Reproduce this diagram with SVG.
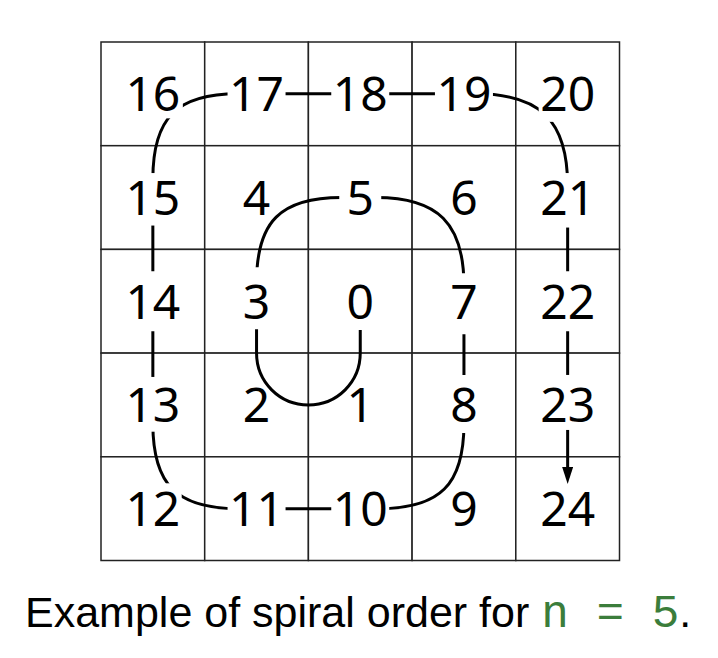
<svg xmlns="http://www.w3.org/2000/svg" width="718" height="658" viewBox="0 0 718 658">
<style>
.cell{fill:#fff;stroke:#222;stroke-width:1.5}
.lbl{font-family:"Noto Sans","DejaVu Sans",sans-serif;font-size:48px;fill:#000;text-anchor:middle}
.conn{fill:none;stroke:#000;stroke-width:3}
.cap{font-family:"Liberation Sans",Arial,sans-serif;font-size:43px;fill:#000}
.n{font-family:"Liberation Mono","Courier New",monospace;font-size:46px;fill:#3b7d3b}
</style>
<defs>
<marker id="arrow" markerUnits="userSpaceOnUse" viewBox="0 0 17 11" refX="11" refY="5.5" markerWidth="17" markerHeight="11" orient="auto">
<path d="M0,0 L17,5.5 L0,11 Z" fill="#000"/>
</marker>
<mask id="gaps" maskUnits="userSpaceOnUse" x="0" y="0" width="718" height="658">
<rect x="0" y="0" width="718" height="658" fill="#fff"/>
<g fill="#000">
<rect x="339.25" y="272" width="42" height="58"/>
<rect x="235.55" y="267.25" width="42" height="62"/>
<rect x="339.25" y="167.55" width="42" height="60"/>
<rect x="442.95" y="273.25" width="42" height="61"/>
<rect x="442.95" y="375" width="42" height="58"/>
<rect x="331.25" y="478.65" width="58" height="60"/>
<rect x="227.55" y="478.65" width="58" height="60"/>
<rect x="123.85" y="483.3" width="57.85" height="55"/>
<rect x="123.85" y="376.95" width="58" height="54.75"/>
<rect x="123.85" y="271.25" width="58" height="60"/>
<rect x="123.85" y="173.05" width="58" height="52.5"/>
<rect x="122.85" y="63.85" width="60" height="54.5"/>
<rect x="227.55" y="63.85" width="58" height="60"/>
<rect x="331.25" y="63.85" width="58" height="60"/>
<rect x="434.95" y="63.85" width="58" height="60"/>
<rect x="538.65" y="63.85" width="58" height="58"/>
<rect x="538.65" y="173.05" width="58" height="54.5"/>
<rect x="538.65" y="271.25" width="58" height="60"/>
<rect x="538.65" y="374.95" width="58" height="55"/>
</g>
</mask>
</defs>
<g id="grid">
<g id="n16"><rect class="cell" x="101" y="42" width="103.7" height="103.7"/><text class="lbl" x="152.85" y="111.35">16</text></g>
<g id="n17"><rect class="cell" x="204.7" y="42" width="103.7" height="103.7"/><text class="lbl" x="256.55" y="111.35">17</text></g>
<g id="n18"><rect class="cell" x="308.4" y="42" width="103.7" height="103.7"/><text class="lbl" x="360.25" y="111.35">18</text></g>
<g id="n19"><rect class="cell" x="412.1" y="42" width="103.7" height="103.7"/><text class="lbl" x="463.95" y="111.35">19</text></g>
<g id="n20"><rect class="cell" x="515.8" y="42" width="103.7" height="103.7"/><text class="lbl" x="567.65" y="111.35">20</text></g>
<g id="n15"><rect class="cell" x="101" y="145.7" width="103.7" height="103.7"/><text class="lbl" x="152.85" y="215.05">15</text></g>
<g id="n4"><rect class="cell" x="204.7" y="145.7" width="103.7" height="103.7"/><text class="lbl" x="256.55" y="215.05">4</text></g>
<g id="n5"><rect class="cell" x="308.4" y="145.7" width="103.7" height="103.7"/><text class="lbl" x="360.25" y="215.05">5</text></g>
<g id="n6"><rect class="cell" x="412.1" y="145.7" width="103.7" height="103.7"/><text class="lbl" x="463.95" y="215.05">6</text></g>
<g id="n21"><rect class="cell" x="515.8" y="145.7" width="103.7" height="103.7"/><text class="lbl" x="567.65" y="215.05">21</text></g>
<g id="n14"><rect class="cell" x="101" y="249.4" width="103.7" height="103.7"/><text class="lbl" x="152.85" y="318.75">14</text></g>
<g id="n3"><rect class="cell" x="204.7" y="249.4" width="103.7" height="103.7"/><text class="lbl" x="256.55" y="318.75">3</text></g>
<g id="n0"><rect class="cell" x="308.4" y="249.4" width="103.7" height="103.7"/><text class="lbl" x="360.25" y="318.75">0</text></g>
<g id="n7"><rect class="cell" x="412.1" y="249.4" width="103.7" height="103.7"/><text class="lbl" x="463.95" y="318.75">7</text></g>
<g id="n22"><rect class="cell" x="515.8" y="249.4" width="103.7" height="103.7"/><text class="lbl" x="567.65" y="318.75">22</text></g>
<g id="n13"><rect class="cell" x="101" y="353.1" width="103.7" height="103.7"/><text class="lbl" x="152.85" y="422.45">13</text></g>
<g id="n2"><rect class="cell" x="204.7" y="353.1" width="103.7" height="103.7"/><text class="lbl" x="256.55" y="422.45">2</text></g>
<g id="n1"><rect class="cell" x="308.4" y="353.1" width="103.7" height="103.7"/><text class="lbl" x="360.25" y="422.45">1</text></g>
<g id="n8"><rect class="cell" x="412.1" y="353.1" width="103.7" height="103.7"/><text class="lbl" x="463.95" y="422.45">8</text></g>
<g id="n23"><rect class="cell" x="515.8" y="353.1" width="103.7" height="103.7"/><text class="lbl" x="567.65" y="422.45">23</text></g>
<g id="n12"><rect class="cell" x="101" y="456.8" width="103.7" height="103.7"/><text class="lbl" x="152.85" y="526.15">12</text></g>
<g id="n11"><rect class="cell" x="204.7" y="456.8" width="103.7" height="103.7"/><text class="lbl" x="256.55" y="526.15">11</text></g>
<g id="n10"><rect class="cell" x="308.4" y="456.8" width="103.7" height="103.7"/><text class="lbl" x="360.25" y="526.15">10</text></g>
<g id="n9"><rect class="cell" x="412.1" y="456.8" width="103.7" height="103.7"/><text class="lbl" x="463.95" y="526.15">9</text></g>
<g id="n24"><rect class="cell" x="515.8" y="456.8" width="103.7" height="103.7"/><text class="lbl" x="567.65" y="526.15">24</text></g>
</g>
<g id="connectors">
<path class="conn" mask="url(#gaps)" marker-end="url(#arrow)" d="M360.25,301.25 L360.25,353.1 C360.25,381.95 337.25,404.95 308.4,404.95 C279.55,404.95 256.55,381.95 256.55,353.1 L256.55,282.55 C256.55,221.55 280.55,197.55 341.55,197.55 L375.95,197.55 C437.95,197.55 463.95,223.55 463.95,285.55 L463.95,423.65 C463.95,484.65 439.95,508.65 378.95,508.65 L237.85,508.65 C176.85,508.65 152.85,484.65 152.85,423.65 L152.85,178.85 C152.85,117.85 176.85,93.85 237.85,93.85 L475.65,93.85 C540.65,93.85 567.65,120.85 567.65,185.85 L567.65,478"/>
</g>
<text class="cap" x="25" y="627">Example of spiral order for <tspan class="n">n = 5</tspan>.</text>
</svg>
